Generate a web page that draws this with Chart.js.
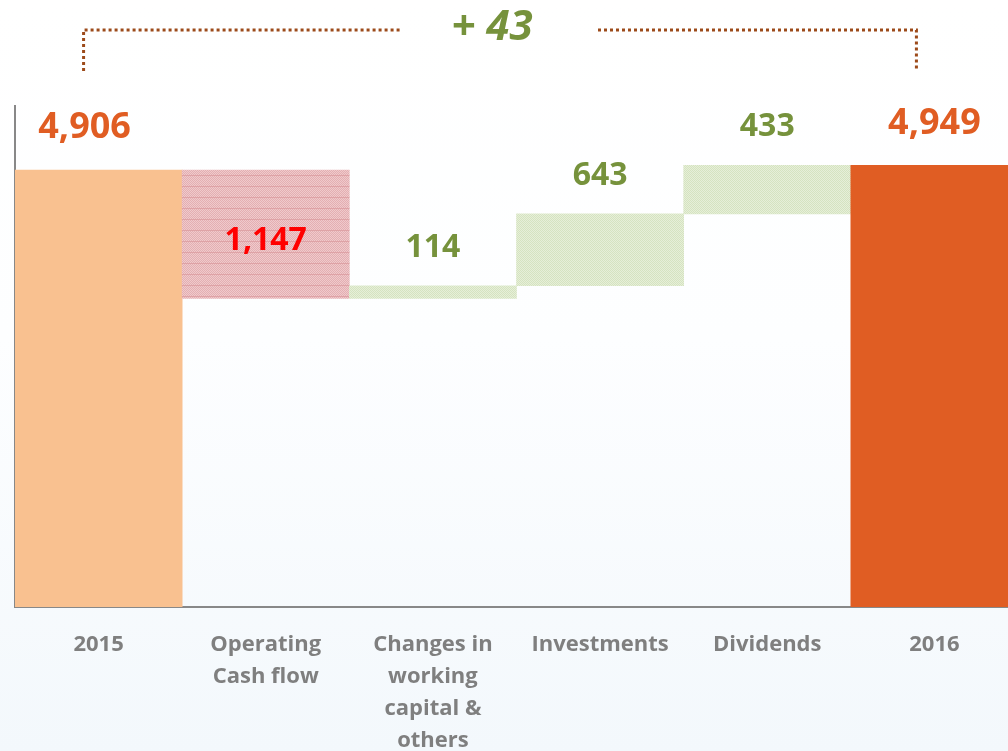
<!DOCTYPE html>
<html>
<head>
<meta charset="utf-8">
<script src="https://cdn.jsdelivr.net/npm/chart.js@4"></script>
<style>
  html, body { margin: 0; padding: 0; }
  body {
    width: 1008px;
    height: 751px;
    background: linear-gradient(to bottom, #ffffff 0%, #fdfeff 45%, #f3f8fc 100%);
    overflow: hidden;
  }
  /* the plot runs a little past the right edge of the slide */
  #wrap { position: relative; width: 1018px; height: 751px; }
</style>
</head>
<body>
<div id="wrap"><canvas id="chart"></canvas></div>
<script>
const categories = [
  ['2015'],
  ['Operating', 'Cash flow'],
  ['Changes in', 'working', 'capital &', 'others'],
  ['Investments'],
  ['Dividends'],
  ['2016'],
];
const values = [4906, -1147, 114, 643, 433, 4949];
const isTotal = [true, false, false, false, false, true];

const ORANGE_LIGHT = '#f9c190';
const ORANGE = '#e05d23';
const GREEN_TEXT = '#76923c';
const RED_TEXT = '#ff0000';
const AXIS = '#888888';

// small textured fills, like the dotted Office patterns
function makePattern(base, dot, line, h) {
  const c = document.createElement('canvas');
  c.width = 2;
  c.height = h;
  const g = c.getContext('2d');
  g.fillStyle = base;
  g.fillRect(0, 0, 2, h);
  g.fillStyle = dot;
  for (let y = 0; y < h; y++) g.fillRect(y % 2, y, 1, 1);
  if (line) {
    g.fillStyle = line;
    g.fillRect(0, h - 1, 2, 1);
  }
  return g.createPattern(c, 'repeat');
}
const redFill = makePattern('#efcacc', '#e4aeb2', '#dea2a6', 11);
const greenFill = makePattern('#e6efd9', '#d5e3c0', null, 4);

// build the floating ranges of the waterfall
let running = 0;
const ranges = values.map((v, i) => {
  if (isTotal[i]) {
    running = v;
    return [0, v];
  }
  const start = running;
  running += v;
  return [start, running];
});

const barColors = values.map((v, i) => {
  if (isTotal[i]) return i === 0 ? ORANGE_LIGHT : ORANGE;
  return v < 0 ? redFill : greenFill;
});

const labelFont = '"Open Sans", sans-serif';

const valueLabels = {
  id: 'valueLabels',
  afterDatasetsDraw(chart) {
    const ctx = chart.ctx;
    const meta = chart.getDatasetMeta(0);
    ctx.save();
    ctx.textAlign = 'center';
    ctx.textBaseline = 'middle';
    meta.data.forEach((bar, i) => {
      const v = values[i];
      const txt = Math.abs(v).toLocaleString('en-US');
      const top = Math.min(bar.y, bar.base);
      const bottom = Math.max(bar.y, bar.base);
      if (isTotal[i]) {
        ctx.font = 'bold 36px ' + labelFont;
        ctx.fillStyle = ORANGE;
        ctx.fillText(txt, bar.x - (i === 0 ? 14 : 0), top - 42);
      } else if (v < 0) {
        ctx.font = 'bold 32px ' + labelFont;
        ctx.fillStyle = RED_TEXT;
        ctx.fillText(txt, bar.x, (top + bottom) / 2 + 7);
      } else {
        ctx.font = 'bold 32px ' + labelFont;
        ctx.fillStyle = GREEN_TEXT;
        ctx.fillText(txt, bar.x, top - 38);
      }
    });

    // overall change bracket on top
    const x = chart.scales.x;
    const first = values[0];
    const last = values[values.length - 1];
    const diff = last - first;
    const left = x.getPixelForValue(0) - 15;
    const right = x.getPixelForValue(values.length - 1) - 18;
    const mid = (left + right) / 2;
    const yLine = 30;
    const yEnd = 71;
    ctx.strokeStyle = '#9c4a1a';
    ctx.lineWidth = 3;
    ctx.setLineDash([3, 3]);
    ctx.beginPath();
    ctx.moveTo(left, yEnd);
    ctx.lineTo(left, yLine);
    ctx.lineTo(mid - 100, yLine);
    ctx.moveTo(mid + 98, yLine);
    ctx.lineTo(right, yLine);
    ctx.lineTo(right, yEnd);
    ctx.stroke();
    ctx.setLineDash([]);

    ctx.font = 'italic bold 42px ' + labelFont;
    ctx.fillStyle = GREEN_TEXT;
    ctx.fillText((diff >= 0 ? '+ ' : '- ') + Math.abs(diff), mid - 8, 28);
    ctx.restore();
  },
};

new Chart(document.getElementById('chart'), {
  type: 'bar',
  data: {
    labels: categories,
    datasets: [
      {
        data: ranges,
        backgroundColor: barColors,
        borderWidth: 0,
        barPercentage: 1,
        categoryPercentage: 1,
      },
    ],
  },
  options: {
    responsive: true,
    maintainAspectRatio: false,
    animation: false,
    events: [],
    layout: { padding: { top: 106, left: 0, right: 0, bottom: 0 } },
    plugins: {
      legend: { display: false },
      tooltip: { enabled: false },
    },
    scales: {
      x: {
        grid: { display: false, drawTicks: false },
        border: { display: true, color: AXIS, width: 2 },
        ticks: {
          color: '#7f7f7f',
          font: { family: labelFont, weight: 'bold', size: 22, lineHeight: 1.45 },
          padding: 22,
          maxRotation: 0,
          autoSkip: false,
        },
        afterFit: (scale) => {
          scale.height = 144;
        },
      },
      y: {
        min: 1000,
        max: 5480,
        grid: { display: false, drawTicks: false },
        border: { display: true, color: AXIS, width: 2 },
        ticks: { display: false },
        afterFit: (scale) => {
          scale.width = 15;
        },
      },
    },
  },
  plugins: [valueLabels],
});
</script>
</body>
</html>
